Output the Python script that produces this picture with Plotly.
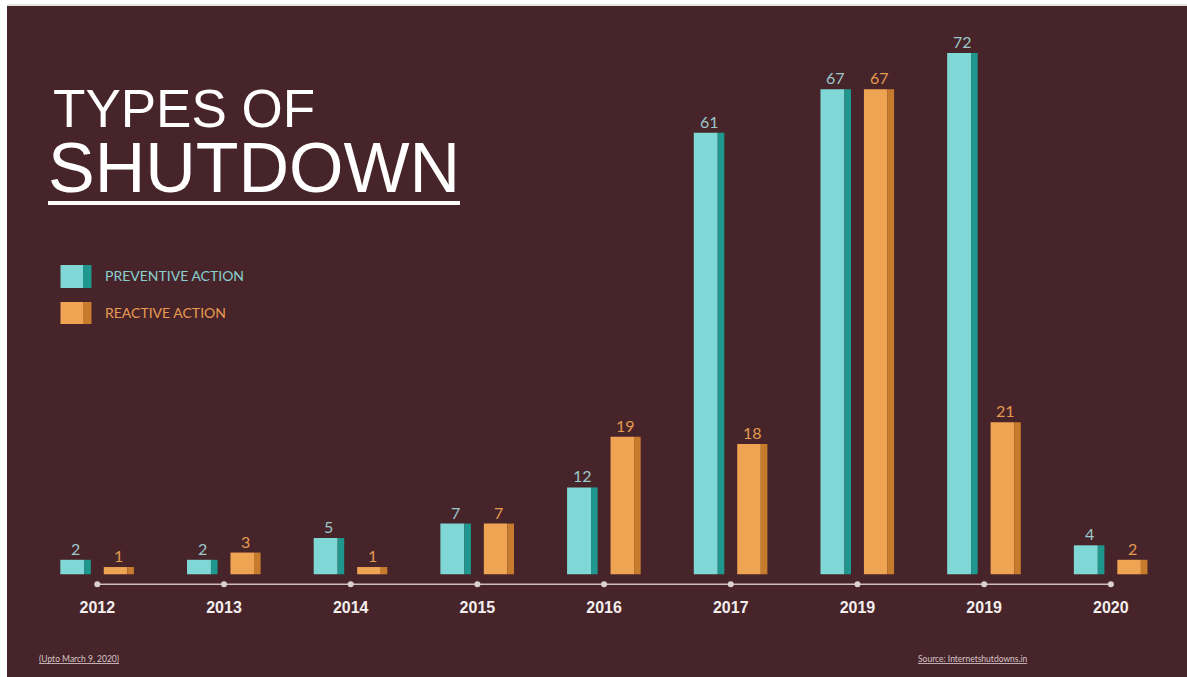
import plotly.graph_objects as go

# ---------------- data ----------------
categories = ["2012", "2013", "2014", "2015", "2016", "2017", "2019", "2019", "2020"]
preventive = [2, 2, 5, 7, 12, 61, 67, 72, 4]
reactive = [1, 3, 1, 7, 19, 18, 67, 21, 2]
series_names = ["PREVENTIVE ACTION", "REACTIVE ACTION"]
title_line1 = "TYPES OF"
title_line2 = "SHUTDOWN"
note_left = "(Upto March 9, 2020)"
note_right = "Source: Internetshutdowns.in"

# ---------------- style ----------------
W, H = 1187, 677
BG = "#472429"
TEAL_FACE, TEAL_SIDE = "#7fd8d5", "#1f978e"
ORANGE_FACE, ORANGE_SIDE = "#efa453", "#c67b2d"
TEAL_TEXT, ORANGE_TEXT = "#9cc9cb", "#e39a52"
AXIS_COL = "#cdbdc0"
LABEL_FONT = "Lato"

idx = list(range(len(categories)))


def px(x):
    return x / W


def py(y):
    return 1 - y / H


fig = go.Figure()

# bar geometry (in category units)
P_FACE_OFF, P_FACE_W = -0.292, 0.189
P_SIDE_OFF, P_SIDE_W = -0.103, 0.052
R_FACE_OFF, R_FACE_W = 0.051, 0.186
R_SIDE_OFF, R_SIDE_W = 0.237, 0.052

for vals, off, w, col in [
    (preventive, P_FACE_OFF, P_FACE_W, TEAL_FACE),
    (preventive, P_SIDE_OFF, P_SIDE_W, TEAL_SIDE),
    (reactive, R_FACE_OFF, R_FACE_W, ORANGE_FACE),
    (reactive, R_SIDE_OFF, R_SIDE_W, ORANGE_SIDE),
]:
    fig.add_trace(go.Bar(
        x=idx, y=vals, offset=off, width=[w] * len(idx),
        marker=dict(color=col, line=dict(width=0)),
        showlegend=False, hoverinfo="skip",
    ))

AXIS_Y = -1.38
# axis baseline and dots
fig.add_shape(type="line", x0=idx[0], x1=idx[-1], y0=AXIS_Y, y1=AXIS_Y,
              xref="x", yref="y", line=dict(color=AXIS_COL, width=1.6), layer="below")
fig.add_trace(go.Scatter(
    x=idx, y=[AXIS_Y] * len(idx), mode="markers",
    marker=dict(color="#ddd0d2", size=6), showlegend=False, hoverinfo="skip"))

# category labels
fig.add_trace(go.Scatter(
    x=idx, y=[-4.75] * len(idx), mode="text", text=[f"<b>{c}</b>" for c in categories],
    textposition="middle center",
    textfont=dict(family="Liberation Sans, Arial", size=16, color="#f3eeee"),
    showlegend=False, hoverinfo="skip"))

# value labels
p_center = P_FACE_OFF + (P_FACE_W + P_SIDE_W) / 2
r_center = R_FACE_OFF + (R_FACE_W + R_SIDE_W) / 2
for i, v in zip(idx, preventive):
    fig.add_annotation(x=i + p_center, y=v, xref="x", yref="y", text=str(v),
                       showarrow=False, yanchor="bottom", yshift=0,
                       font=dict(family=LABEL_FONT, size=16, color=TEAL_TEXT))
for i, v in zip(idx, reactive):
    fig.add_annotation(x=i + r_center, y=v, xref="x", yref="y", text=str(v),
                       showarrow=False, yanchor="bottom", yshift=0,
                       font=dict(family=LABEL_FONT, size=16, color=ORANGE_TEXT))

# title (single two-line text block)
title_text = (
    f'<span style="font-size:18px">\u00a0</span>'
    f'<span style="font-size:53px">{title_line1}</span><br>'
    f'<span style="font-size:70px">{title_line2}</span>'
)
fig.add_annotation(x=px(46), y=py(143), xref="paper", yref="paper", text=title_text,
                   showarrow=False, xanchor="left", yanchor="middle", align="left",
                   font=dict(family="Liberation Sans, Arial", size=50, color="#ffffff"))
fig.add_shape(type="line", xref="paper", yref="paper", x0=px(48), x1=px(460),
              y0=py(203), y1=py(203), line=dict(color="#ffffff", width=4))

# legend swatches
for (y0, y1), face, side in [((265, 288), TEAL_FACE, TEAL_SIDE), ((302, 324), ORANGE_FACE, ORANGE_SIDE)]:
    fig.add_shape(type="rect", xref="paper", yref="paper", x0=px(60.5), x1=px(83),
                  y0=py(y1), y1=py(y0), fillcolor=face, line=dict(width=0))
    fig.add_shape(type="rect", xref="paper", yref="paper", x0=px(83), x1=px(91.5),
                  y0=py(y1), y1=py(y0), fillcolor=side, line=dict(width=0))
fig.add_annotation(x=px(103), y=py(275.5), xref="paper", yref="paper", text=series_names[0],
                   showarrow=False, xanchor="left", yanchor="middle",
                   font=dict(family=LABEL_FONT, size=14, color="#88d0d0"))
fig.add_annotation(x=px(103), y=py(313), xref="paper", yref="paper", text=series_names[1],
                   showarrow=False, xanchor="left", yanchor="middle",
                   font=dict(family=LABEL_FONT, size=14, color="#e89b52"))

# footnotes
fig.add_annotation(x=px(37), y=py(659), xref="paper", yref="paper", text=f"<u>{note_left}</u>",
                   showarrow=False, xanchor="left", yanchor="middle",
                   font=dict(family=LABEL_FONT, size=8.5, color="#d6c6ca"))
fig.add_annotation(x=px(916), y=py(659), xref="paper", yref="paper", text=f"<u>{note_right}</u>",
                   showarrow=False, xanchor="left", yanchor="middle",
                   font=dict(family=LABEL_FONT, size=8.5, color="#d6c6ca"))

# white frame strips (page edges)
fig.add_shape(type="rect", xref="paper", yref="paper", x0=0, x1=px(7), y0=0, y1=1,
              fillcolor="#ffffff", line=dict(width=0))
fig.add_shape(type="rect", xref="paper", yref="paper", x0=0, x1=1, y0=py(6), y1=1,
              fillcolor="#ffffff", line=dict(width=0))
fig.add_shape(type="line", xref="paper", yref="paper", x0=px(7), x1=1, y0=py(5), y1=py(5),
              line=dict(color="#cfc6c6", width=1))

fig.update_layout(
    width=W, height=H,
    margin=dict(l=0, r=0, t=0, b=0),
    paper_bgcolor=BG, plot_bgcolor=BG,
    barmode="overlay",
    xaxis=dict(range=[-0.768, 8.601], visible=False, fixedrange=True),
    yaxis=dict(range=[-14.19, 79.32], visible=False, fixedrange=True),
    showlegend=False,
)

fig.write_html("out.html")
